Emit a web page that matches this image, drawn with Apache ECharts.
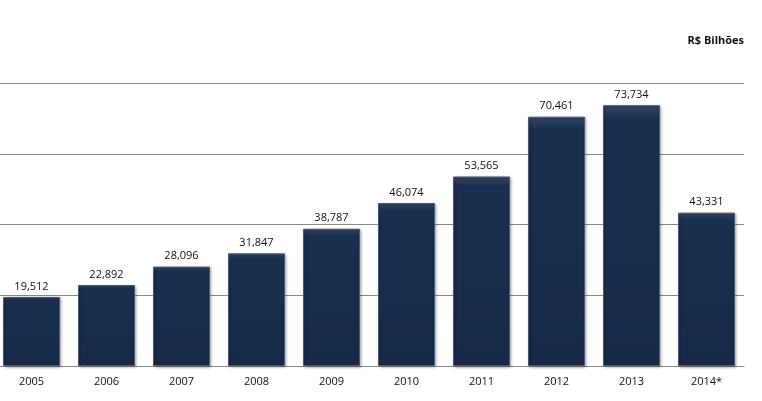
<!DOCTYPE html>
<html><head><meta charset="utf-8">
<script src="https://cdn.jsdelivr.net/npm/echarts@6/dist/echarts.min.js"></script>
<style>html,body{margin:0;padding:0;background:#fff;overflow:hidden}#c{width:768px;height:401px;margin-left:-6px}</style>
</head><body><div id="c"></div>
<script>
const categories = ['2005','2006','2007','2008','2009','2010','2011','2012','2013','2014*'];
const values = [19.512, 22.892, 28.096, 31.847, 38.787, 46.074, 53.565, 70.461, 73.734, 43.331];
const unitLabel = 'R$ Bilhões';

const chart = echarts.init(document.getElementById('c'));
chart.setOption({
  animation: false,
  grid: {left: 0, right: 18, top: 83, bottom: 35, containLabel: false},
  graphic: [{
    type: 'text', right: 18, top: 35,
    style: {text: unitLabel, font: 'bold 11px "Open Sans", "Noto Sans", sans-serif', fill: '#111'}
  }],
  xAxis: {
    type: 'category', data: categories,
    axisLine: {show: true, lineStyle: {color: '#8a8a8a', width: 1}},
    axisTick: {show: false},
    axisLabel: {color: '#111', fontSize: 11, fontFamily: '"Open Sans", "Noto Sans", sans-serif', margin: 10}
  },
  yAxis: {
    type: 'value', min: 0, max: 80, interval: 20,
    axisLine: {show: false}, axisTick: {show: false}, axisLabel: {show: false},
    splitLine: {lineStyle: {color: '#8a8a8a', width: 1}}
  },
  series: [{
    type: 'bar', data: values, barWidth: 57,
    itemStyle: {
      color: {type: 'linear', x: 0, y: 0, x2: 0, y2: 1, colorStops: [
        {offset: 0, color: '#34486a'}, {offset: 0.05, color: '#1a2e4e'}, {offset: 1, color: '#162a48'}]},
      borderColor: '#4a5a72', borderWidth: 1,
      shadowColor: 'rgba(0,0,0,0.35)', shadowBlur: 3, shadowOffsetX: 1, shadowOffsetY: 1
    },
    label: {
      show: true, position: 'top', distance: 5, color: '#111', fontSize: 11,
      fontFamily: '"Open Sans", "Noto Sans", sans-serif',
      formatter: p => p.value.toFixed(3).replace('.', ',')
    }
  }]
});
</script></body></html>
